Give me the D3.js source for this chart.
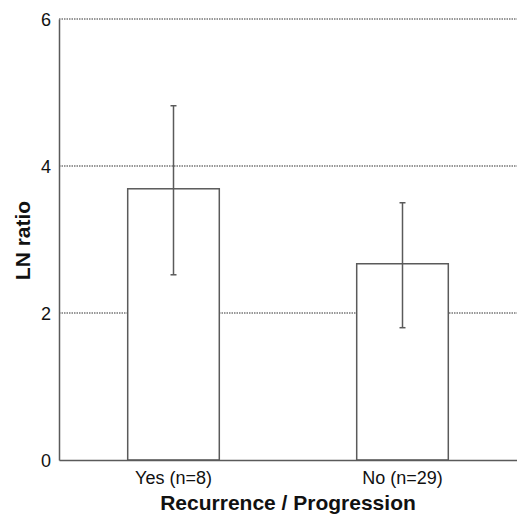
<!DOCTYPE html>
<html>
<head>
<meta charset="utf-8">
<script src="https://cdn.jsdelivr.net/npm/d3@7"></script>
<style>
  body { margin: 0; background: #fff; }
  text { font-family: "Liberation Sans", Arial, sans-serif; fill: #111; }
</style>
</head>
<body>
<script>
var groups = ["Yes (n=8)", "No (n=29)"];
var means = [3.69, 2.67];
var errLow = [2.52, 1.80];
var errHigh = [4.82, 3.50];
var yTicks = [0, 2, 4, 6];

var margin = {top: 19, right: 0, bottom: 56, left: 59},
    width = 517 - margin.left - margin.right,
    height = 516 - margin.top - margin.bottom;

var svg = d3.select("body").append("svg")
    .attr("width", 517)
    .attr("height", 516)
    .append("g")
    .attr("transform", "translate(" + margin.left + "," + margin.top + ")");

var xscale = d3.scaleBand().domain(groups).range([0, width])
    .paddingInner(0.6).paddingOuter(0.3);
var yscale = d3.scaleLinear().domain([0, 6]).range([height, 0]);

// grid lines (dotted grey like the scan)
svg.selectAll(".grid")
    .data(yTicks.filter(function(d) { return d > 0; }))
    .enter().append("line")
    .attr("x1", 0).attr("x2", width)
    .attr("y1", function(d) { return yscale(d); })
    .attr("y2", function(d) { return yscale(d); })
    .attr("stroke", "#777")
    .attr("stroke-width", 1.5)
    .attr("stroke-dasharray", "1.5,1");

// bars
svg.selectAll(".bar")
    .data(groups)
    .enter().append("rect")
    .attr("x", function(d) { return xscale(d); })
    .attr("width", xscale.bandwidth())
    .attr("y", function(d, i) { return yscale(means[i]); })
    .attr("height", function(d, i) { return height - yscale(means[i]); })
    .attr("fill", "#fff")
    .attr("stroke", "#5a5a5a")
    .attr("stroke-width", 1.5);

// error bars
var cx = function(d) { return xscale(d) + xscale.bandwidth() / 2; };
svg.selectAll(".err")
    .data(groups)
    .enter().append("line")
    .attr("x1", cx).attr("x2", cx)
    .attr("y1", function(d, i) { return yscale(errLow[i]); })
    .attr("y2", function(d, i) { return yscale(errHigh[i]); })
    .attr("stroke", "#5a5a5a")
    .attr("stroke-width", 1.5);
groups.forEach(function(g, i) {
    [errLow[i], errHigh[i]].forEach(function(v) {
        svg.append("line")
            .attr("x1", cx(g) - 3).attr("x2", cx(g) + 3)
            .attr("y1", yscale(v)).attr("y2", yscale(v))
            .attr("stroke", "#5a5a5a")
            .attr("stroke-width", 1.5);
    });
});

// axes
var yAxis = d3.axisLeft(yscale).tickValues(yTicks).tickFormat(d3.format("d"))
    .tickSize(0).tickPadding(8);
var gy = svg.append("g").call(yAxis);
gy.select(".domain").attr("stroke", "#5a5a5a").attr("stroke-width", 1.5);
gy.selectAll("text").style("font-size", "18px").attr("dy", "0.34em");

var xAxis = d3.axisBottom(xscale).tickSize(0).tickPadding(11);
var gx = svg.append("g")
    .attr("transform", "translate(0," + height + ")")
    .call(xAxis);
gx.select(".domain").attr("stroke", "#5a5a5a").attr("stroke-width", 1.5);
gx.selectAll("text").style("font-size", "18px");

svg.append("text")
    .attr("x", width / 2)
    .attr("y", height + 50)
    .attr("text-anchor", "middle")
    .style("font-size", "21px")
    .style("font-weight", "bold")
    .text("Recurrence / Progression");

svg.append("text")
    .attr("transform", "translate(" + (-29) + "," + (height / 2 + 1) + ") rotate(-90)")
    .attr("text-anchor", "middle")
    .style("font-size", "21px")
    .style("font-weight", "bold")
    .text("LN ratio");
</script>
</body>
</html>
